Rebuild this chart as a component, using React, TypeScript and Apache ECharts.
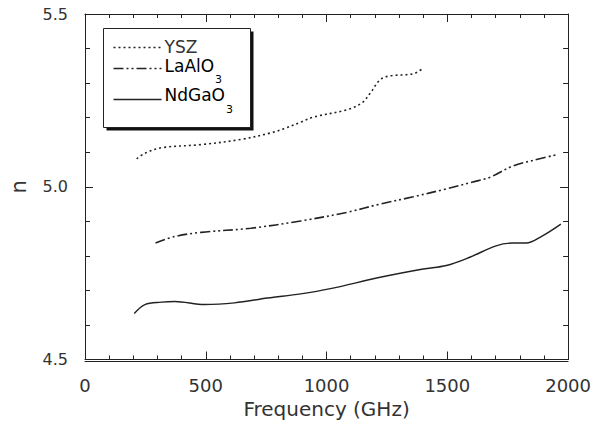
import React, { useEffect, useRef } from "react";
import * as echarts from "echarts";

const freqYSZ = [214, 248, 317, 481, 646, 770, 824, 893, 948, 1085, 1147, 1181, 1222, 1263, 1359, 1400];
const nYSZ = [5.081, 5.097, 5.113, 5.122, 5.137, 5.156, 5.168, 5.187, 5.202, 5.223, 5.243, 5.271, 5.31, 5.321, 5.327, 5.343];

const freqLaAlO3 = [292, 372, 481, 687, 893, 1085, 1222, 1359, 1496, 1606, 1675, 1771, 1853, 1949];
const nLaAlO3 = [4.837, 4.856, 4.868, 4.88, 4.901, 4.926, 4.95, 4.971, 4.994, 5.014, 5.027, 5.06, 5.076, 5.092];

const freqNdGaO3 = [204, 248, 317, 372, 495, 619, 756, 893, 1016, 1222, 1400, 1496, 1593, 1702, 1771, 1826, 1894, 1970];
const nNdGaO3 = [4.633, 4.659, 4.666, 4.668, 4.659, 4.664, 4.678, 4.69, 4.705, 4.738, 4.762, 4.772, 4.796, 4.829, 4.837, 4.837, 4.858, 4.892];

const xTicks = { min: 0, max: 2000, interval: 500 };
const yTicks = { min: 4.5, max: 5.5, interval: 0.5 };

const FONT = "DejaVu Sans, Liberation Sans, Arial, sans-serif";
const INK = "#222";
const TXT = "#333";

const pair = (xs: number[], ys: number[]) => xs.map((x, i) => [x, ys[i]]);

export default function App() {
  const ref = useRef<HTMLDivElement>(null);
  useEffect(() => {
    if (!ref.current) return;
    const chart = echarts.init(ref.current, undefined, { renderer: "svg" });
    const lineStyle = { color: INK, width: 1 };
    const baseX = {
      type: "value" as const,
      ...xTicks,
      splitLine: { show: false },
      axisLine: { show: true, onZero: false, lineStyle },
    };
    const baseY = {
      type: "value" as const,
      ...yTicks,
      splitLine: { show: false },
      axisLine: { show: true, onZero: false, lineStyle },
    };
    const subRich = {
      m: { fontSize: 17, fontFamily: FONT, color: TXT, lineHeight: 18, padding: [0, 0, 10, 0] },
      s: { fontSize: 11, fontFamily: FONT, color: TXT, lineHeight: 10, padding: [18, 0, 0, 1] },
    };
    chart.setOption({
      animation: false,
      backgroundColor: "#fff",
      grid: { left: 83, right: 25, top: 14, bottom: 65.5 },
      xAxis: [
        {
          ...baseX,
          position: "bottom",
          axisTick: { inside: true, length: 8, lineStyle },
          minorTick: { show: true, splitNumber: 5, length: 4, lineStyle },
          axisLabel: { fontSize: 18, color: TXT, margin: 17, fontFamily: FONT, formatter: (v: number) => String(v) },
          name: "Frequency (GHz)",
          nameLocation: "middle",
          nameGap: 37,
          nameTextStyle: { fontSize: 20, color: TXT, fontFamily: FONT },
        },
        {
          ...baseX,
          position: "top",
          axisTick: { inside: true, length: 8, lineStyle },
          minorTick: { show: true, splitNumber: 5, length: 4, lineStyle },
          axisLabel: { show: false },
        },
        {
          ...baseX,
          position: "bottom",
          offset: 2,
          axisTick: { show: false },
          axisLabel: { show: false },
        },
      ],
      yAxis: [
        {
          ...baseY,
          position: "left",
          axisTick: { inside: true, length: 8, lineStyle },
          minorTick: { show: true, splitNumber: 5, length: 5, lineStyle },
          axisLabel: {
            fontSize: 16,
            color: TXT,
            margin: 17,
            fontFamily: FONT,
            formatter: (v: number) => v.toFixed(1),
          },
          name: "n",
          nameLocation: "middle",
          nameGap: 56,
          nameTextStyle: { fontSize: 21, color: TXT, fontFamily: FONT },
        },
        {
          ...baseY,
          position: "right",
          axisTick: { inside: true, length: 8, lineStyle },
          minorTick: { show: true, splitNumber: 5, length: 5, lineStyle },
          axisLabel: { show: false },
        },
      ],
      series: [
        {
          name: "YSZ",
          type: "line",
          xAxisIndex: 0,
          yAxisIndex: 0,
          data: pair(freqYSZ, nYSZ),
          smooth: 0.35,
          symbol: "none",
          lineStyle: { color: INK, width: 1.6, type: [2, 3] },
        },
        {
          name: "LaAlO3",
          type: "line",
          xAxisIndex: 0,
          yAxisIndex: 0,
          data: pair(freqLaAlO3, nLaAlO3),
          smooth: 0.35,
          symbol: "none",
          lineStyle: { color: INK, width: 1.6, type: [10, 3, 2, 3, 2, 3] },
        },
        {
          name: "NdGaO3",
          type: "line",
          xAxisIndex: 0,
          yAxisIndex: 0,
          data: pair(freqNdGaO3, nNdGaO3),
          smooth: 0.35,
          symbol: "none",
          lineStyle: { color: INK, width: 1.4 },
        },
      ],
      graphic: [
        {
          type: "group",
          left: 103,
          top: 28,
          children: [
            { type: "rect", shape: { x: 3, y: 3, width: 147, height: 99 }, style: { fill: "#111" } },
            { type: "rect", shape: { x: 0, y: 0, width: 147, height: 99 }, style: { fill: "#fff", stroke: INK, lineWidth: 1 } },
            { type: "line", shape: { x1: 10, y1: 19, x2: 58, y2: 19 }, style: { stroke: INK, lineWidth: 1.6, lineDash: [2, 3] } },
            { type: "line", shape: { x1: 10, y1: 40, x2: 58, y2: 40 }, style: { stroke: INK, lineWidth: 1.6, lineDash: [10, 3, 2, 3, 2, 3] } },
            { type: "line", shape: { x1: 10, y1: 71, x2: 58, y2: 71 }, style: { stroke: INK, lineWidth: 1.4 } },
            { type: "text", x: 61, y: 18.5, style: { text: "YSZ", fontSize: 17, fontFamily: FONT, fill: TXT, verticalAlign: "middle" } },
            { type: "text", x: 61, y: 42, style: { text: "{m|LaAlO}{s|3}", rich: subRich, verticalAlign: "middle" } },
            { type: "text", x: 61, y: 71.5, style: { text: "{m|NdGaO}{s|3}", rich: subRich, verticalAlign: "middle" } },
          ],
        },
      ],
    });
    return () => chart.dispose();
  }, []);
  return <div ref={ref} style={{ position: "absolute", left: 0, top: 0, width: 594, height: 425 }} />;
}
